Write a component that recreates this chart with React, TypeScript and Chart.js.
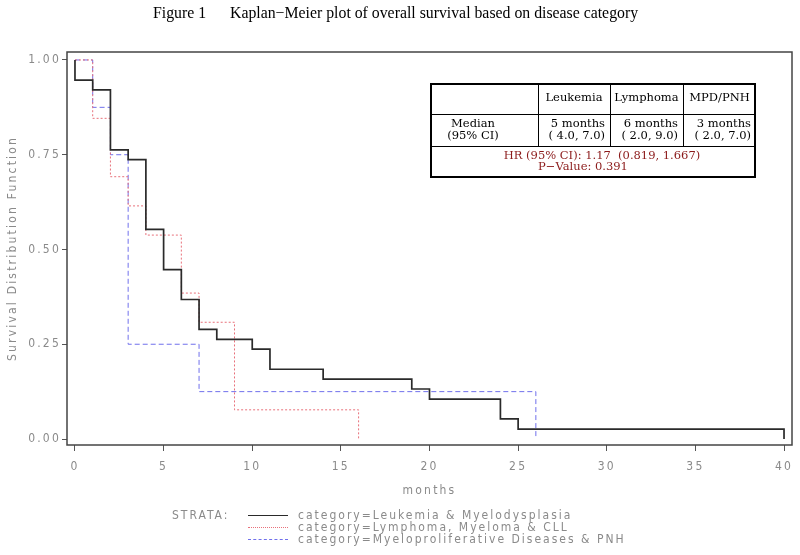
import React, { useEffect, useRef } from 'react';
import { Chart, registerables } from 'chart.js';

Chart.register(...registerables);

const seriesNames = [
  'category=Leukemia & Myelodysplasia',
  'category=Lymphoma, Myeloma & CLL',
  'category=Myeloproliferative Diseases & PNH',
];
const leukemiaTimes = [0, 0, 1, 2, 3, 4, 5, 6, 7, 8, 10, 11, 14, 19, 20, 24, 25, 40];
const leukemiaSurv = [1, 0.947, 0.921, 0.763, 0.737, 0.553, 0.447, 0.368, 0.289, 0.263, 0.237, 0.184, 0.158, 0.132, 0.105, 0.053, 0.026, 0];
const lymphomaTimes = [0, 1, 2, 3, 4, 6, 7, 9, 16];
const lymphomaSurv = [1, 0.846, 0.692, 0.615, 0.538, 0.385, 0.308, 0.077, 0];
const mpdTimes = [0, 1, 2, 3, 7, 26];
const mpdSurv = [1, 0.875, 0.75, 0.25, 0.125, 0];
const xTicks = [0, 5, 10, 15, 20, 25, 30, 35, 40];
const yTicks = [0, 0.25, 0.5, 0.75, 1];
const tableHeaders = ['Leukemia', 'Lymphoma', 'MPD/PNH'];
const medians = ['5 months', '6 months', '3 months'];
const medianCIs = ['( 4.0, 7.0)', '( 2.0, 9.0)', '( 2.0, 7.0)'];
const hrText = 'HR (95% CI): 1.17  (0.819, 1.667)';
const pText = 'P\u2212Value: 0.391';

const lineColors = ['#2a2a2a', 'rgb(232,112,122)', 'rgb(112,112,236)'];
const AX_FONT = '"DejaVu Sans Condensed", "DejaVu Sans", sans-serif';
const AX_COLOR = '#8a8a8a';
const SERIF = '"Liberation Serif", "Times New Roman", serif';
const TABLE_SERIF = '"DejaVu Serif", serif';

const toPts = (t: number[], s: number[]) => t.map((x, i) => ({ x, y: s[i] }));

const framePlugin = {
  id: 'frame',
  beforeDraw(chart: any) {
    chart.ctx.letterSpacing = '2.2px';
  },
  afterDatasetsDraw(chart: any) {
    const { ctx, chartArea: a } = chart;
    ctx.save();
    ctx.strokeStyle = '#444';
    ctx.lineWidth = 1.5;
    ctx.strokeRect(a.left, a.top, a.right - a.left, a.bottom - a.top);
    ctx.restore();
  },
};

function KMChart() {
  const ref = useRef<HTMLCanvasElement | null>(null);
  useEffect(() => {
    if (!ref.current) return;
    const chart = new Chart(ref.current, {
      type: 'line',
      data: {
        datasets: [
          { label: seriesNames[0], data: toPts(leukemiaTimes, leukemiaSurv), borderColor: lineColors[0], borderWidth: 1.7, stepped: true, pointRadius: 0, fill: false },
          { label: seriesNames[1], data: toPts(lymphomaTimes, lymphomaSurv), borderColor: lineColors[1], borderWidth: 1, borderDash: [2, 2], stepped: true, pointRadius: 0, fill: false },
          { label: seriesNames[2], data: toPts(mpdTimes, mpdSurv), borderColor: lineColors[2], borderWidth: 1, borderDash: [5, 3], stepped: true, pointRadius: 0, fill: false },
        ],
      },
      options: {
        animation: false,
        responsive: false,
        maintainAspectRatio: false,
        layout: { padding: { left: 0, right: 8, top: 52, bottom: 57 } },
        plugins: { legend: { display: false }, title: { display: false }, tooltip: { enabled: false } },
        scales: {
          x: {
            type: 'linear',
            min: -0.45,
            max: 40.45,
            afterFit: (s: any) => { s.height = 53; },
            afterBuildTicks: (s: any) => { s.ticks = xTicks.map((v) => ({ value: v })); },
            ticks: { color: AX_COLOR, font: { family: AX_FONT, size: 12 }, padding: 9, maxRotation: 0, autoSkip: false, callback: (v: any) => String(v) },
            grid: { drawOnChartArea: false, drawTicks: true, tickLength: 6, color: '#555' },
            border: { display: false },
            title: { display: true, text: 'months', color: AX_COLOR, font: { family: AX_FONT, size: 12 }, padding: 0 },
          },
          y: {
            type: 'linear',
            min: -0.0158,
            max: 1.021,
            afterFit: (s: any) => { s.width = 67; },
            afterBuildTicks: (s: any) => { s.ticks = yTicks.map((v) => ({ value: v })); },
            ticks: { color: AX_COLOR, font: { family: AX_FONT, size: 12 }, padding: 1, autoSkip: false, callback: (v: any) => Number(v).toFixed(2) },
            grid: { drawOnChartArea: false, drawTicks: true, tickLength: 5, color: '#555' },
            border: { display: false },
            title: { display: true, text: 'Survival Distribution Function', color: AX_COLOR, font: { family: AX_FONT, size: 12 }, padding: { top: 6, bottom: 0 } },
          },
        },
      },
      plugins: [framePlugin],
    });
    return () => chart.destroy();
  }, []);
  return <canvas ref={ref} width={800} height={555} style={{ position: 'absolute', left: 0, top: 0, width: 800, height: 555 }} />;
}

const abs = (extra: React.CSSProperties): React.CSSProperties => ({ position: 'absolute', ...extra });

function StatsTable() {
  const left = 430, top = 83, right = 756, bottom = 178;
  const colX = [430, 538, 610, 683, 756];
  const row1 = 114, row2 = 146;
  const txt: React.CSSProperties = { fontFamily: TABLE_SERIF, fontSize: 11.5, lineHeight: '12px', color: '#000', whiteSpace: 'pre' };
  return (
    <>
      <div style={abs({ left, top, width: right - left, height: bottom - top, border: '2px solid #000', boxSizing: 'border-box' })} />
      <div style={abs({ left, top: row1, width: right - left, height: 0, borderTop: '1px solid #000' })} />
      <div style={abs({ left, top: row2, width: right - left, height: 0, borderTop: '1px solid #000' })} />
      {[1, 2, 3].map((i) => (
        <div key={i} style={abs({ left: colX[i], top, width: 0, height: row2 - top, borderLeft: '1px solid #000' })} />
      ))}
      {tableHeaders.map((h, i) => (
        <div key={h} style={abs({ ...txt, left: colX[i + 1], width: colX[i + 2] - colX[i + 1], top: 91, textAlign: 'center' })}>{h}</div>
      ))}
      <div style={abs({ ...txt, left: 423, width: 100, top: 117, textAlign: 'center' })}>{'Median\n(95% CI)'}</div>
      {medians.map((m, i) => (
        <div key={m} style={abs({ ...txt, left: colX[i + 1], width: colX[i + 2] - colX[i + 1] - 5, top: 117, textAlign: 'right' })}>{m + '\n' + medianCIs[i]}</div>
      ))}
      <div style={abs({ ...txt, color: '#8b1a1a', left: 430, width: 344, top: 150, lineHeight: '11px', textAlign: 'center' })}>{hrText}</div>
      <div style={abs({ ...txt, color: '#8b1a1a', left: 430, width: 306, top: 161, lineHeight: '11px', textAlign: 'center' })}>{pText}</div>
    </>
  );
}

function Legend() {
  const t: React.CSSProperties = { fontFamily: AX_FONT, fontSize: 12, color: AX_COLOR, letterSpacing: '2px', whiteSpace: 'pre', lineHeight: '12px' };
  const rows = [515, 527, 539];
  const styles = ['1.7px solid ' + lineColors[0], '1px dotted ' + lineColors[1], '1px dashed ' + lineColors[2]];
  return (
    <>
      <div style={abs({ ...t, left: 172, top: rows[0] - 6 })}>STRATA:</div>
      {seriesNames.map((n, i) => (
        <React.Fragment key={n}>
          <div style={abs({ left: 248, top: rows[i], width: 40, height: 0, borderTop: styles[i] })} />
          <div style={abs({ ...t, left: 298, top: rows[i] - 6 })}>{n}</div>
        </React.Fragment>
      ))}
    </>
  );
}

const titleStyle: React.CSSProperties = { fontFamily: SERIF, fontSize: 15.8, lineHeight: '16px', whiteSpace: 'pre', color: '#000' };

export default function App() {
  return (
    <div style={{ position: 'absolute', left: 0, top: 0, width: 800, height: 555, background: '#fff', overflow: 'hidden' }}>
      <KMChart />
      <div style={abs({ ...titleStyle, left: 153, top: 5 })}>Figure 1</div>
      <div style={abs({ ...titleStyle, left: 230, top: 5 })}>{'Kaplan\u2212Meier plot of overall survival based on disease category'}</div>
      <StatsTable />
      <Legend />
    </div>
  );
}
